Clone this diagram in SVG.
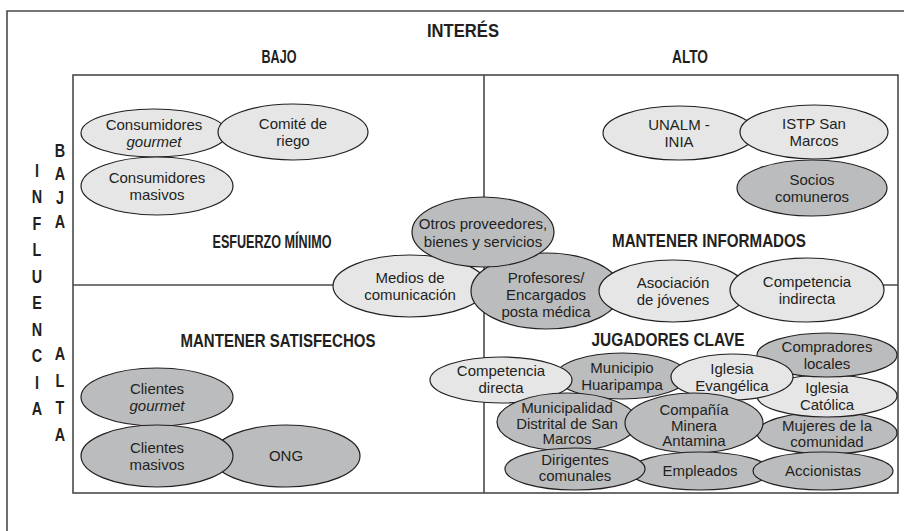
<svg xmlns="http://www.w3.org/2000/svg" width="904" height="531" viewBox="0 0 904 531">
<style>
.frame{fill:none;stroke:#4a4a4a;stroke-width:1.6}
.grid{fill:none;stroke:#4a4a4a;stroke-width:1.6}
.lt{fill:#e6e6e7;stroke:#231f20;stroke-width:1.2}
.dk{fill:#bbbcbe;stroke:#231f20;stroke-width:1.2}
.t{font-family:"Liberation Sans",Arial,sans-serif;font-size:15px;fill:#231f20;text-anchor:middle}
.i{font-style:italic}
.h{font-family:"Liberation Sans",Arial,sans-serif;font-weight:bold;font-size:19px;fill:#231f20;text-anchor:middle}
.ax{font-family:"Liberation Sans",Arial,sans-serif;font-weight:bold;font-size:18px;fill:#231f20;text-anchor:middle}
</style>
<rect width="904" height="531" fill="#fff"/>
<path class="frame" d="M7,531 V11 H904"/>
<g id="grid">
<rect class="grid" x="73" y="75" width="825" height="418"/>
<line class="grid" x1="484" y1="75" x2="484" y2="493"/>
<line class="grid" x1="73" y1="285" x2="898" y2="285"/>
</g>
<g id="headings">
<text class="h" x="463" y="37" font-size="21" textLength="72" lengthAdjust="spacingAndGlyphs">INTERÉS</text>
<text class="h" x="279" y="63" font-size="18" textLength="35" lengthAdjust="spacingAndGlyphs">BAJO</text>
<text class="h" x="690" y="63" font-size="18" textLength="36" lengthAdjust="spacingAndGlyphs">ALTO</text>
<text class="h" x="272" y="248" textLength="119" lengthAdjust="spacingAndGlyphs">ESFUERZO MÍNIMO</text>
<text class="h" x="709" y="247" textLength="194" lengthAdjust="spacingAndGlyphs">MANTENER INFORMADOS</text>
<text class="h" x="278" y="347" textLength="195" lengthAdjust="spacingAndGlyphs">MANTENER SATISFECHOS</text>
<text class="h" x="668" y="346" textLength="153" lengthAdjust="spacingAndGlyphs">JUGADORES CLAVE</text>
</g>
<g id="axis-influencia" transform="translate(37 0) scale(0.8 1)">
<text class="ax" x="0" y="177">I</text>
<text class="ax" x="0" y="203.5">N</text>
<text class="ax" x="0" y="230">F</text>
<text class="ax" x="0" y="256.5">L</text>
<text class="ax" x="0" y="283">U</text>
<text class="ax" x="0" y="309.5">E</text>
<text class="ax" x="0" y="336">N</text>
<text class="ax" x="0" y="362.5">C</text>
<text class="ax" x="0" y="389">I</text>
<text class="ax" x="0" y="415.5">A</text>
</g>
<g id="axis-levels" transform="translate(60 0) scale(0.8 1)">
<text class="ax" x="0" y="157">B</text>
<text class="ax" x="0" y="180">A</text>
<text class="ax" x="0" y="204">J</text>
<text class="ax" x="0" y="228">A</text>
<text class="ax" x="0" y="360">A</text>
<text class="ax" x="0" y="387">L</text>
<text class="ax" x="0" y="414">T</text>
<text class="ax" x="0" y="441">A</text>
</g>
<g id="connectors"></g>
<g id="n-consumidores-gourmet"><ellipse class="lt" cx="154" cy="133" rx="73" ry="24"/><text class="t" x="154" y="130">Consumidores</text><text class="t i" x="154" y="147">gourmet</text></g>
<g id="n-comite-riego"><ellipse class="lt" cx="293" cy="132" rx="75" ry="28"/><text class="t" x="293" y="129">Comité de</text><text class="t" x="293" y="146">riego</text></g>
<g id="n-consumidores-masivos"><ellipse class="lt" cx="157" cy="186" rx="76" ry="29"/><text class="t" x="157" y="183">Consumidores</text><text class="t" x="157" y="200">masivos</text></g>
<g id="n-medios"><ellipse class="lt" cx="410" cy="286" rx="77" ry="31"/><text class="t" x="410" y="283">Medios de</text><text class="t" x="410" y="300">comunicación</text></g>
<g id="n-profesores"><ellipse class="dk" cx="546" cy="291" rx="75" ry="38"/><text class="t" x="546" y="283">Profesores/</text><text class="t" x="546" y="300">Encargados</text><text class="t" x="546" y="317">posta médica</text></g>
<g id="n-otros"><ellipse class="dk" cx="483" cy="232" rx="71" ry="35"/><text class="t" x="483" y="229">Otros proveedores,</text><text class="t" x="483" y="247">bienes y servicios</text></g>
<g id="n-unalm"><ellipse class="lt" cx="679" cy="133" rx="76" ry="27"/><text class="t" x="679" y="130">UNALM -</text><text class="t" x="679" y="147">INIA</text></g>
<g id="n-istp"><ellipse class="lt" cx="814" cy="132" rx="74" ry="27"/><text class="t" x="814" y="129">ISTP San</text><text class="t" x="814" y="146">Marcos</text></g>
<g id="n-socios"><ellipse class="dk" cx="812" cy="188" rx="75" ry="28"/><text class="t" x="812" y="185">Socios</text><text class="t" x="812" y="202">comuneros</text></g>
<g id="n-asociacion"><ellipse class="lt" cx="673" cy="291" rx="74" ry="31"/><text class="t" x="673" y="288">Asociación</text><text class="t" x="673" y="305">de jóvenes</text></g>
<g id="n-competencia-indirecta"><ellipse class="lt" cx="807" cy="290" rx="77" ry="32"/><text class="t" x="807" y="287">Competencia</text><text class="t" x="807" y="304">indirecta</text></g>
<g id="n-municipio"><ellipse class="dk" cx="622" cy="376" rx="66" ry="23"/><text class="t" x="622" y="373">Municipio</text><text class="t" x="622" y="390">Huaripampa</text></g>
<g id="n-competencia-directa"><ellipse class="lt" cx="501" cy="380" rx="71" ry="23"/><text class="t" x="501" y="376">Competencia</text><text class="t" x="501" y="393">directa</text></g>
<g id="n-mujeres"><ellipse class="dk" cx="827" cy="433" rx="70" ry="21"/><text class="t" x="827" y="431">Mujeres de la</text><text class="t" x="827" y="447">comunidad</text></g>
<g id="n-iglesia-catolica"><ellipse class="lt" cx="827" cy="396" rx="70" ry="21"/><text class="t" x="827" y="393">Iglesia</text><text class="t" x="827" y="410">Católica</text></g>
<g id="n-compradores"><ellipse class="dk" cx="827" cy="355" rx="70" ry="22"/><text class="t" x="827" y="352">Compradores</text><text class="t" x="827" y="369">locales</text></g>
<g id="n-iglesia-evangelica"><ellipse class="lt" cx="732" cy="377" rx="61" ry="23"/><text class="t" x="732" y="374">Iglesia</text><text class="t" x="732" y="391">Evangélica</text></g>
<g id="n-municipalidad"><ellipse class="dk" cx="567" cy="422" rx="70" ry="29"/><text class="t" x="567" y="413">Municipalidad</text><text class="t" x="567" y="428.5">Distrital de San</text><text class="t" x="567" y="444">Marcos</text></g>
<g id="n-compania"><ellipse class="dk" cx="694" cy="423" rx="69" ry="30"/><text class="t" x="694" y="415">Compañía</text><text class="t" x="694" y="430.5">Minera</text><text class="t" x="694" y="446">Antamina</text></g>
<g id="n-empleados"><ellipse class="dk" cx="700" cy="471" rx="70" ry="19"/><text class="t" x="700" y="476">Empleados</text></g>
<g id="n-dirigentes"><ellipse class="dk" cx="575" cy="469" rx="70" ry="21"/><text class="t" x="575" y="465">Dirigentes</text><text class="t" x="575" y="481">comunales</text></g>
<g id="n-accionistas"><ellipse class="dk" cx="823" cy="471" rx="70" ry="19"/><text class="t" x="823" y="476">Accionistas</text></g>
<g id="n-clientes-gourmet"><ellipse class="dk" cx="157" cy="397" rx="76" ry="29"/><text class="t" x="157" y="394">Clientes</text><text class="t i" x="157" y="411">gourmet</text></g>
<g id="n-ong"><ellipse class="dk" cx="286" cy="456" rx="74" ry="31"/><text class="t" x="286" y="461">ONG</text></g>
<g id="n-clientes-masivos"><ellipse class="dk" cx="157" cy="456" rx="76" ry="31"/><text class="t" x="157" y="453">Clientes</text><text class="t" x="157" y="470">masivos</text></g>
</svg>
